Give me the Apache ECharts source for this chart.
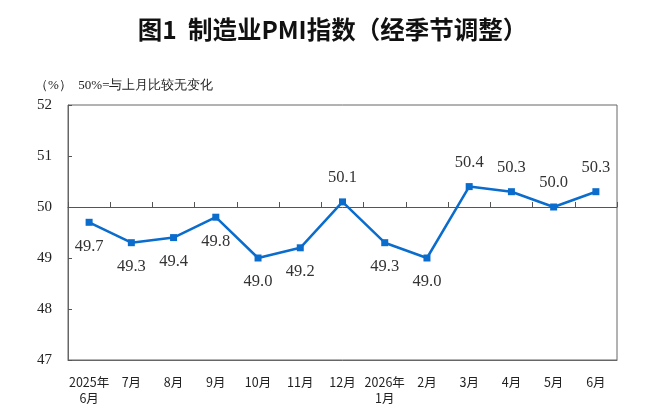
<!DOCTYPE html>
<html lang="zh">
<head>
<meta charset="UTF-8">
<title>制造业PMI指数</title>
<script src="https://cdn.jsdelivr.net/npm/echarts@6/dist/echarts.min.js"></script>
<style>
  html, body { margin: 0; padding: 0; background: #fff; }
  #main { width: 665px; height: 418px; }
</style>
</head>
<body>
<div id="main"></div>
<script>
  // 月份标签
  const months = ['2025年\n6月', '7月', '8月', '9月', '10月', '11月', '12月',
                  '2026年\n1月', '2月', '3月', '4月', '5月', '6月'];
  // 制造业PMI（经季节调整）
  const pmi = [49.7, 49.3, 49.4, 49.8, 49.0, 49.2, 50.1, 49.3, 49.0, 50.4, 50.3, 50.0, 50.3];
  // 数据标签在点上方(top)或下方(bottom)
  const labelPos = ['bottom', 'bottom', 'bottom', 'bottom', 'bottom', 'bottom', 'top',
                    'bottom', 'bottom', 'top', 'top', 'top', 'top'];
  const baseLine = 50; // 50%=与上月比较无变化
  const yTicks = [47, 48, 49, 50, 51, 52];

  const serif = '"Liberation Serif", "DejaVu Serif", serif';
  const sans = '"Noto Sans CJK SC", sans-serif';

  let myChart = echarts.init(document.getElementById('main'));

  // 数值减去50绘制，使x轴落在50这条线上
  let seriesData = pmi.map((v, i) => ({
    value: +(v - baseLine).toFixed(1),
    label: { position: labelPos[i], distance: labelPos[i] === 'top' ? 12 : 12 }
  }));

  let option = {
    animation: false,
    title: [
      {
        text: '图1  制造业PMI指数（经季节调整）',
        left: 'center',
        top: 12,
        textStyle: { fontFamily: sans, fontSize: 24.5, fontWeight: 'bold', color: '#111' }
      },
      {
        text: '（%）  50%=与上月比较无变化',
        left: 30,
        top: 74,
        textStyle: { fontFamily: serif, fontSize: 13, fontWeight: 'normal', color: '#222' }
      }
    ],
    grid: {
      left: 68, right: 48, top: 105, bottom: 58,
      show: true, borderColor: '#666', borderWidth: 1
    },
    xAxis: [
      {
        // 50处的轴线与刻度
        type: 'category',
        data: months,
        boundaryGap: true,
        axisLine: { onZero: true, lineStyle: { color: '#555', width: 1 } },
        axisTick: { show: true, inside: true, length: 5, interval: 0,
                    lineStyle: { color: '#555' } },
        axisLabel: { show: false }
      },
      {
        type: 'category',
        data: months,
        position: 'bottom',
        axisLine: { onZero: false, show: true, lineStyle: { color: '#666' } },
        axisTick: { show: false },
        axisLabel: {
          interval: 0,
          margin: 14,
          fontFamily: sans,
          fontSize: 12.5,
          color: '#222',
          lineHeight: 16
        }
      }
    ],
    yAxis: {
      type: 'value',
      min: yTicks[0] - baseLine,
      max: yTicks[yTicks.length - 1] - baseLine,
      interval: 1,
      splitLine: { show: false },
      axisLine: { show: true, lineStyle: { color: '#666' } },
      axisTick: { show: true, inside: true, length: 4, lineStyle: { color: '#555' } },
      axisLabel: {
        margin: 16,
        fontFamily: serif,
        fontSize: 15,
        color: '#222',
        formatter: v => String(v + baseLine)
      }
    },
    series: [{
      type: 'line',
      xAxisIndex: 0,
      data: seriesData,
      symbol: 'rect',
      symbolSize: 7,
      lineStyle: { color: '#0a6ccc', width: 2.5 },
      itemStyle: { color: '#0a6ccc' },
      label: {
        show: true,
        fontFamily: serif,
        fontSize: 16.5,
        color: '#333',
        formatter: p => pmi[p.dataIndex].toFixed(1)
      }
    }]
  };

  myChart.setOption(option);
</script>
</body>
</html>
